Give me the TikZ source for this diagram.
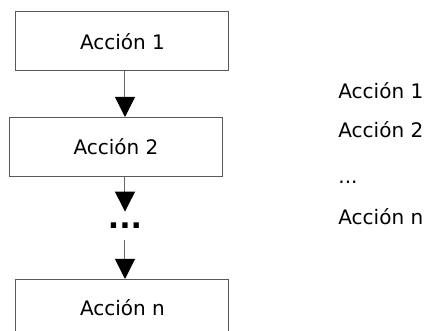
\documentclass[tikz,border=0pt]{standalone}
\usepackage{fontspec}
\setmainfont{DejaVu Sans}
\usetikzlibrary{arrows.meta, positioning}
\tikzset{
paso/.style={draw=black!65, line width=0.5pt, minimum width=106.5pt,
  minimum height=29.5pt, inner sep=0pt, font=\fontsize{10}{12}\selectfont},
flecha/.style={draw=black!60, line width=0.5pt,
  -{Triangle[width=10pt,length=10pt,color=black]}},
lista/.style={anchor=base west, inner sep=0pt, font=\fontsize{10}{12}\selectfont}
}

\begin{document}
\begin{tikzpicture}[x=0.5pt,y=-0.5pt]
\useasboundingbox (0,0) rectangle (430,331);
\clip (0,0) rectangle (430,331);
\node[paso] (A1) at (122.5,41.5) {Acción 1};
\node[paso] (A2) at (116,147) {Acción 2};
\node[inner sep=0pt, minimum height=14pt,
  font=\fontsize{15}{18}\selectfont\bfseries] (P) at (125,226) {...};
\node[paso, anchor=north, minimum height=28pt] (An) at (122.5,279) {Acción n};
\coordinate (eje) at (125,0);
\draw[flecha] (A1.south -| eje) -- (A2.north -| eje);
\draw[flecha] (A2.south -| eje) -- (P.north);
\draw[flecha] (P.south) -- (An.north -| eje);
% lista de la derecha
\node[lista] (L1) at (338,99) {Acción 1};
\node[lista] (L2) at (338,138) {Acción 2};
\node[lista] (L3) at (338,184) {...};
\node[lista] (Ln) at (338,225) {Acción n};
\end{tikzpicture}
\end{document}
